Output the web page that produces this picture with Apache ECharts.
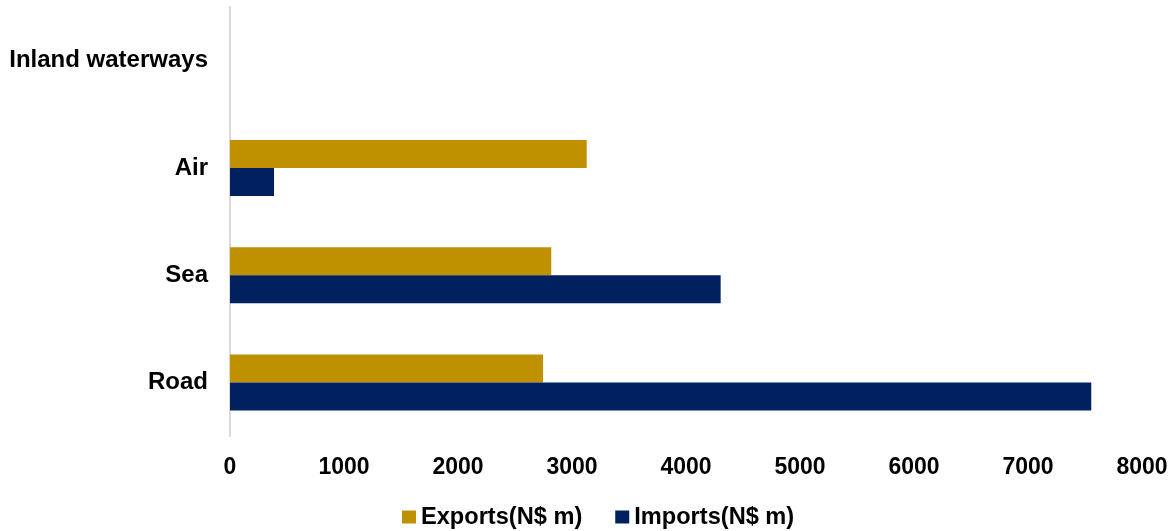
<!DOCTYPE html>
<html>
<head>
<meta charset="utf-8">
<script src="https://cdn.jsdelivr.net/npm/echarts@6/dist/echarts.min.js"></script>
<style>html,body{margin:0;padding:0;background:#fff}#c{width:1172px;height:531px}</style>
</head>
<body>
<div id="c"></div>
<script>
const categories = ['Road', 'Sea', 'Air', 'Inland waterways'];
const exportsData = [2746, 2818, 3129, 0];
const importsData = [7555, 4304, 386, 0];
const xTicks = [0, 1000, 2000, 3000, 4000, 5000, 6000, 7000, 8000];

const chart = echarts.init(document.getElementById('c'));
const font = 'Liberation Sans, Arial, sans-serif';
chart.setOption({
  animation: false,
  grid: { left: 230, right: 30, top: 7, bottom: 95, containLabel: false },
  legend: {
    left: 402, top: 505, padding: 0,
    itemWidth: 14, itemHeight: 13, itemGap: 33,
    icon: 'rect',
    textStyle: { fontFamily: font, fontWeight: 'bold', fontSize: 23.6, color: '#000' },
    data: ['Exports(N$ m)', 'Imports(N$ m)']
  },
  xAxis: {
    type: 'value', min: xTicks[0], max: xTicks[xTicks.length - 1], interval: 1000,
    axisLine: { show: false }, axisTick: { show: false }, splitLine: { show: false },
    axisLabel: { fontFamily: font, fontWeight: 'bold', fontSize: 23, color: '#000', margin: 20,
      formatter: v => String(v) }
  },
  yAxis: {
    type: 'category', data: categories,
    axisLine: { show: true, lineStyle: { color: '#d9d9d9', width: 2 } },
    axisTick: { show: false },
    axisLabel: { fontFamily: font, fontWeight: 'bold', fontSize: 24, color: '#000', margin: 22 }
  },
  series: [
    { name: 'Exports(N$ m)', type: 'bar', data: exportsData, barWidth: 28, barGap: '0%',
      itemStyle: { color: '#BF9000' } },
    { name: 'Imports(N$ m)', type: 'bar', data: importsData, barWidth: 28, barGap: '0%',
      itemStyle: { color: '#002060' } }
  ]
});
</script>
</body>
</html>
